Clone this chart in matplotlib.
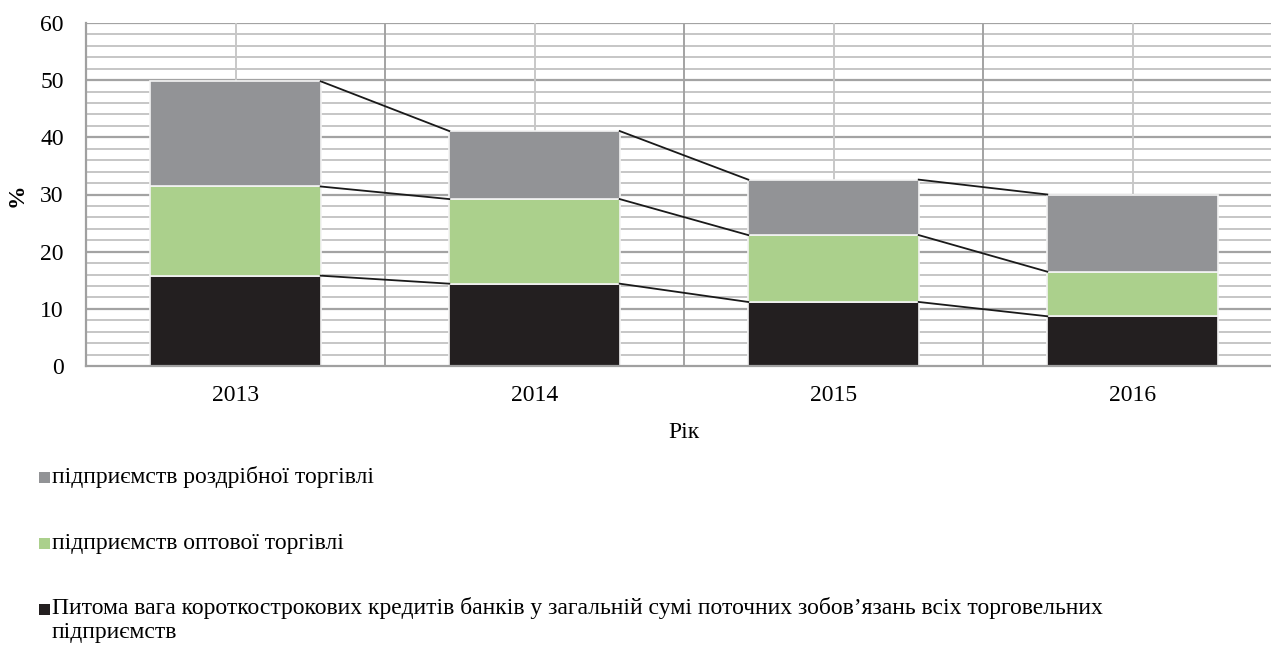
import matplotlib
matplotlib.use("Agg")
import matplotlib.pyplot as plt
from matplotlib.patches import Rectangle
import numpy as np

years = ["2013", "2014", "2015", "2016"]
black_vals = [15.8, 14.4, 11.2, 8.7]
green_vals = [15.6, 14.8, 11.7, 7.8]
gray_vals = [18.4, 11.9, 9.7, 13.5]
series_names = [
    "Питома вага короткострокових кредитів банків у загальній сумі поточних зобов’язань всіх торговельних\nпідприємств",
    "підприємств оптової торгівлі",
    "підприємств роздрібної торгівлі",
]
colors = ["#231f20", "#abd08c", "#929396"]

plt.rcParams['font.family'] = ['Liberation Serif', 'DejaVu Serif']
FS = 17

W, H = 1271, 651
fig = plt.figure(figsize=(W / 100, H / 100), dpi=100)
left, right = 86, 1282
top, bottom = 23, 366
ax = fig.add_axes([left / W, (H - bottom) / H, (right - left) / W, (bottom - top) / H])

x = np.arange(len(years))
width = 0.57
ax.set_xlim(-0.5, 3.5)
ax.set_ylim(0, 60)

# gridlines
for yv in np.arange(2, 60, 2):
    major = (yv % 10 == 0)
    ax.axhline(yv, color="#a3a3a3" if major else "#c6c6c6", lw=1.6 if major else 1.4, zorder=0)
ax.axhline(60, color="#a3a3a3", lw=1.6, zorder=0)
for xv in np.arange(-0.5, 4, 1):
    ax.axvline(xv, color="#a3a3a3", lw=1.4, zorder=0)
for xv in x:
    ax.axvline(xv, color="#c8c8c8", lw=1.4, zorder=0)

data = [black_vals, green_vals, gray_vals]
base = np.zeros(len(years))
for vals, c in zip(data, colors):
    vals = np.array(vals)
    ax.bar(x, vals, width, bottom=base, color=c, edgecolor="#f4f4f4", linewidth=1.2, zorder=2)
    tops = base + vals
    for i in range(len(years) - 1):
        ax.plot([x[i] + width / 2, x[i + 1] - width / 2], [tops[i], tops[i + 1]],
                color="#1a1a1a", lw=1.3, zorder=3)
    base = tops

for s in ["top", "right"]:
    ax.spines[s].set_visible(False)
for s in ["left", "bottom"]:
    ax.spines[s].set_color("#a0a0a0")
    ax.spines[s].set_linewidth(1.6)

ax.set_xticks(x)
ax.set_xticklabels(years, fontsize=FS)
ax.set_yticks(np.arange(0, 61, 10))
ax.tick_params(axis="y", labelsize=FS, length=0, pad=16)
ax.tick_params(axis="x", length=0, pad=14)
ax.set_xlabel("Рік", fontsize=FS, labelpad=11)
ax.set_ylabel("%", fontsize=FS, fontweight="bold")
ax.yaxis.set_label_coords((28 - left) / (right - left), (bottom - 195) / (bottom - top))

# legend (manual)
rows = [(series_names[2], colors[2], 477), (series_names[1], colors[1], 543), (series_names[0], colors[0], 609)]
for name, c, yc in rows:
    fig.patches.append(Rectangle((39 / W, (H - yc - 5.5) / H), 11 / W, 11 / H,
                                 transform=fig.transFigure, facecolor=c, edgecolor="none"))
    if "\n" in name:
        fig.text(52 / W, (H - yc + 12) / H, name, fontsize=FS, ha="left", va="top",
                 linespacing=1.2)
    else:
        fig.text(52 / W, (H - yc) / H, name, fontsize=FS, ha="left", va="center")

fig.savefig("out.png", dpi=100)
